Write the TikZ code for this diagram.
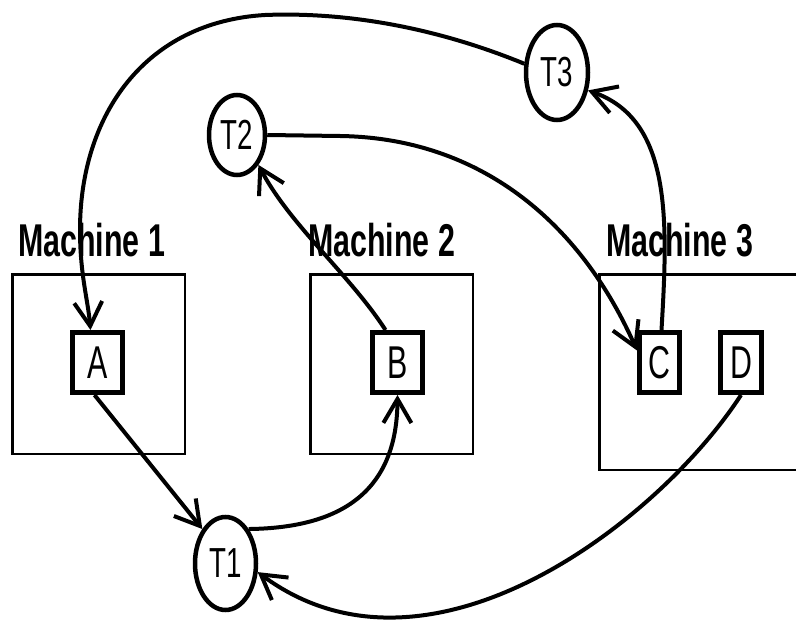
\documentclass[tikz,border=0pt]{standalone}
\usepackage{fontspec}
\newfontfamily\narrowfont[FakeStretch=0.66]{Liberation Sans}
\usepackage{tikz}
\usetikzlibrary{shapes.geometric, arrows.meta}
\tikzstyle{machine} = [rectangle, draw=black, line width=2.5pt, inner sep=0pt]
\tikzstyle{machinename} = [inner sep=0pt, anchor=south west,
font=\narrowfont\bfseries\fontsize{46}{46}\selectfont]
\tikzstyle{process} = [rectangle, draw=black, line width=5pt, minimum
    height=60pt, inner sep=0pt, font=\narrowfont\fontsize{46}{46}\selectfont]
\tikzstyle{thread} = [ellipse, draw=black, line width=4.5pt, inner sep=0pt,
font=\narrowfont\fontsize{42}{42}\selectfont]
\tikzstyle{arrow} = [line width=4pt,->,>={Straight Barb[length=24pt,width=28pt]}]

\begin{document}
\begin{tikzpicture}[x=1pt, y=-1pt]
            \useasboundingbox (0,0) rectangle (796,623);
            % Machines
            \node[machine, minimum width=172.5pt, minimum height=179.5pt] (m1) at (98.5,364) {};
            \node[machine, minimum width=162.5pt, minimum height=179.5pt] (m2) at (391.5,364) {};
            \node[machine, minimum width=203.5pt, minimum height=195.5pt] (m3) at (701,372) {};
            \node[machinename] (name1) at ([xshift=7pt, yshift=16pt]m1.north west) {Machine 1};
            \node[machinename] (name2) at ([xshift=-1pt, yshift=16pt]m2.north west) {Machine 2};
            \node[machinename] (name3) at ([xshift=8pt, yshift=16pt]m3.north west) {Machine 3};
            % Processes
            \node[process, minimum width=50pt] (A) at (97.5,362.5) {A};
            \node[process, minimum width=50pt] (B) at (397.5,362.5) {B};
            \node[process, minimum width=40pt] (C) at (659.5,362.5) {C};
            \node[process, minimum width=41pt] (D) at (741,362.5) {D};
            % Threads
            \node[thread, minimum width=61pt, minimum height=93pt] (T1) at (225.5,563.5) {T1};
            \node[thread, minimum width=56pt, minimum height=80pt] (T2) at (237,135) {T2};
            \node[thread, minimum width=62pt, minimum height=95pt] (T3) at (557,72.5) {T3};
            % Arrows
            \draw[arrow] (T3.165) .. controls (430,25) and (340,12) .. (265,15)
                .. controls (145,22) and (80,115) .. (80,230)
                .. controls (80,275) and (88,300) .. ([xshift=-7pt]A.north);
            \draw[arrow] (T2.east) -- (340,136) .. controls (480,138) and (580,222) .. ([yshift=12pt]C.west);
            \draw[arrow] ([xshift=-12pt]B.north) .. controls (350,275) and (290,225) .. (T2.south east);
            \draw[arrow] ([xshift=2pt]C.north) .. controls (668,220) and (672,120) .. (T3.-30);
            \draw[arrow] ([xshift=-3pt]A.south) -- (T1.north west);
            \draw[arrow] (T1.north east) .. controls (330,528) and (397,500) .. (B.south);
            \draw[arrow] (D.south) .. controls (660,520) and (430,700) .. (T1.-15);
        \end{tikzpicture}
\end{document}
